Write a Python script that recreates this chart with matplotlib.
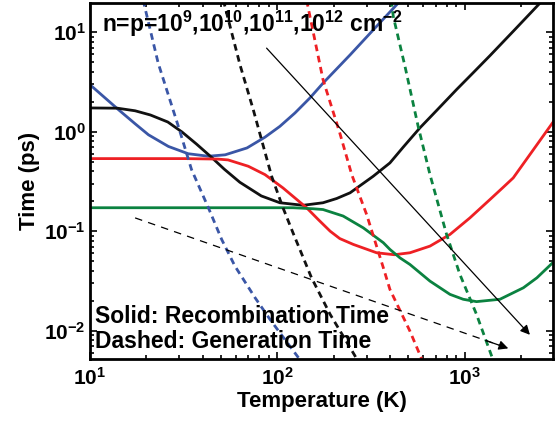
import numpy as np
import matplotlib
matplotlib.use("Agg")
import matplotlib.pyplot as plt

plt.rcParams["font.family"] = ["Liberation Sans", "DejaVu Sans"]
plt.rcParams["font.weight"] = "bold"
plt.rcParams["mathtext.fontset"] = "custom"
plt.rcParams["mathtext.rm"] = "Liberation Sans:bold"
plt.rcParams["mathtext.bf"] = "Liberation Sans:bold"
plt.rcParams["mathtext.it"] = "Liberation Sans:bold"
plt.rcParams["mathtext.sf"] = "Liberation Sans:bold"

# recombination times (solid), one per carrier density
t_blue_rec = [10, 14.2, 17.4, 20.5, 26.2, 33.4, 42.8, 52.6, 68.8, 85.8, 103, 124, 149, 175, 244, 324, 432, 460]
tau_blue_rec = [2.96, 1.66, 1.2, 0.93, 0.71, 0.60, 0.566, 0.585, 0.686, 0.88, 1.13, 1.54, 2.18, 3.07, 5.9, 10.5, 18.8, 21.5]

t_black_rec = [10, 14, 17.4, 21, 26, 31, 37, 44.6, 52, 63, 82, 103, 137, 175, 207, 244, 324, 398,
               469, 575, 706, 903, 1106, 1360, 1811, 2510, 2800]
tau_black_rec = [1.73, 1.72, 1.62, 1.47, 1.25, 0.99, 0.75, 0.55, 0.42, 0.31, 0.226, 0.193, 0.182, 0.193, 0.213, 0.243, 0.356, 0.485,
                 0.70, 1.09, 1.63, 2.65, 3.9, 5.8, 10.2, 19.5, 24]

t_red_rec = [10, 32, 48, 54.5, 69.9, 85.8, 107, 143, 165, 191, 215, 254, 338, 420, 509, 651, 832, 1063, 1360, 1600, 1810, 2320, 3000]
tau_red_rec = [0.536, 0.536, 0.53, 0.52, 0.449, 0.37, 0.272, 0.172, 0.131, 0.1, 0.0843, 0.0736, 0.0607, 0.058, 0.0607, 0.0708, 0.0927,
               0.136, 0.208, 0.276, 0.343, 0.66, 1.3]

t_green_rec = [10, 63, 121, 155, 175, 224, 287, 367, 398, 450, 509, 651, 832, 979, 1153, 1537, 2050, 2420, 3000]
tau_green_rec = [0.172, 0.172, 0.172, 0.168, 0.165, 0.142, 0.108, 0.0766, 0.0656, 0.054, 0.0463, 0.0315, 0.0232, 0.0207, 0.0196,
                 0.0207, 0.027, 0.034, 0.05]

# generation times (dashed)
t_blue_gen = [19.2, 23.1, 29.6, 34.8, 42.8, 50.4, 59.3, 75.9, 91.2, 129, 140]
tau_blue_gen = [21, 4.89, 1.13, 0.416, 0.172, 0.0826, 0.0446, 0.0215, 0.013, 0.0054, 0.0045]

t_black_gen = [51.4, 63.1, 74.3, 93.1, 107, 121, 152, 191, 259, 275]
tau_black_gen = [21, 4.7, 1.66, 0.356, 0.172, 0.0964, 0.034, 0.0146, 0.0056, 0.0045]

t_red_gen = [143, 175, 215, 249, 299, 367, 398, 509, 588, 620]
tau_red_gen = [21, 3.33, 0.97, 0.37, 0.147, 0.043, 0.026, 0.0099, 0.0052, 0.0045]

t_green_gen = [404, 415, 479, 563, 651, 798, 940, 1153, 1387, 1450]
tau_green_gen = [21, 14.3, 4.52, 1.13, 0.37, 0.093, 0.0368, 0.0146, 0.0056, 0.0045]

# trend arrows
arrow_solid_t = [87.5, 2222]
arrow_solid_tau = [6.9, 0.0091]
arrow_dash_t = [17.4, 1703]
arrow_dash_tau = [0.136, 0.00665]

blue = "#3a56a6"
red = "#ee2024"
green = "#0b8240"
black = "#111111"

fig = plt.figure(figsize=(5.57, 4.25), dpi=100)
ax = fig.add_axes([90 / 557, 1 - 359 / 425, 463 / 557, 356 / 425])
ax.set_xscale("log")
ax.set_yscale("log")

lw = 2.0
for t, tau, c in [(t_blue_rec, tau_blue_rec, blue), (t_black_rec, tau_black_rec, black),
                  (t_red_rec, tau_red_rec, red), (t_green_rec, tau_green_rec, green)]:
    ax.plot(t, tau, color=c, lw=lw, solid_capstyle="butt", solid_joinstyle="round")

for t, tau, c in [(t_blue_gen, tau_blue_gen, blue), (t_black_gen, tau_black_gen, black),
                  (t_red_gen, tau_red_gen, red), (t_green_gen, tau_green_gen, green)]:
    ax.plot(t, tau, color=c, lw=lw, dashes=(2.4, 1.7))

ax.annotate("", xy=(arrow_solid_t[1], arrow_solid_tau[1]), xytext=(arrow_solid_t[0], arrow_solid_tau[0]),
            arrowprops=dict(arrowstyle="-|>", color="k", lw=0.9, mutation_scale=14, shrinkA=0, shrinkB=0))
ax.plot(arrow_dash_t, arrow_dash_tau, color="k", lw=0.9, dashes=(6, 5))
# head of the dashed arrow, drawn along the last stretch of the shaft
head_t = np.exp(np.log(arrow_dash_t[0]) * 0.06 + np.log(arrow_dash_t[1]) * 0.94)
head_tau = np.exp(np.log(arrow_dash_tau[0]) * 0.06 + np.log(arrow_dash_tau[1]) * 0.94)
ax.annotate("", xy=(arrow_dash_t[1], arrow_dash_tau[1]), xytext=(head_t, head_tau),
            arrowprops=dict(arrowstyle="-|>", color="k", lw=0.9, mutation_scale=14, shrinkA=0, shrinkB=0))

ax.set_xlim(10, 2950)
ax.set_ylim(0.0052, 19.6)

ax.tick_params(which="both", direction="in", top=True, right=True, width=1.2, labelsize=15)
ax.tick_params(which="major", length=5)
ax.tick_params(which="minor", length=3)
ax.tick_params(axis="x", pad=6)
ax.tick_params(axis="y", pad=3)
for s in ax.spines.values():
    s.set_linewidth(2)

ax.set_xlabel("Temperature (K)", fontsize=16, fontweight="bold", labelpad=1)
ax.set_ylabel("Time (ps)", fontsize=16, fontweight="bold", labelpad=3)

ax.text(0.026, 0.918, r"n=p=10$^{9}$,10$^{10}$,10$^{11}$,10$^{12}$ cm$^{-2}$",
        transform=ax.transAxes, fontsize=16.5, fontweight="bold", va="baseline")
ax.text(0.011, 0.101, "Solid: Recombination Time", transform=ax.transAxes,
        fontsize=16.5, fontweight="bold", va="baseline")
ax.text(0.011, 0.031, "Dashed: Generation Time", transform=ax.transAxes,
        fontsize=16.5, fontweight="bold", va="baseline")

fig.savefig("out.png", dpi=100)
